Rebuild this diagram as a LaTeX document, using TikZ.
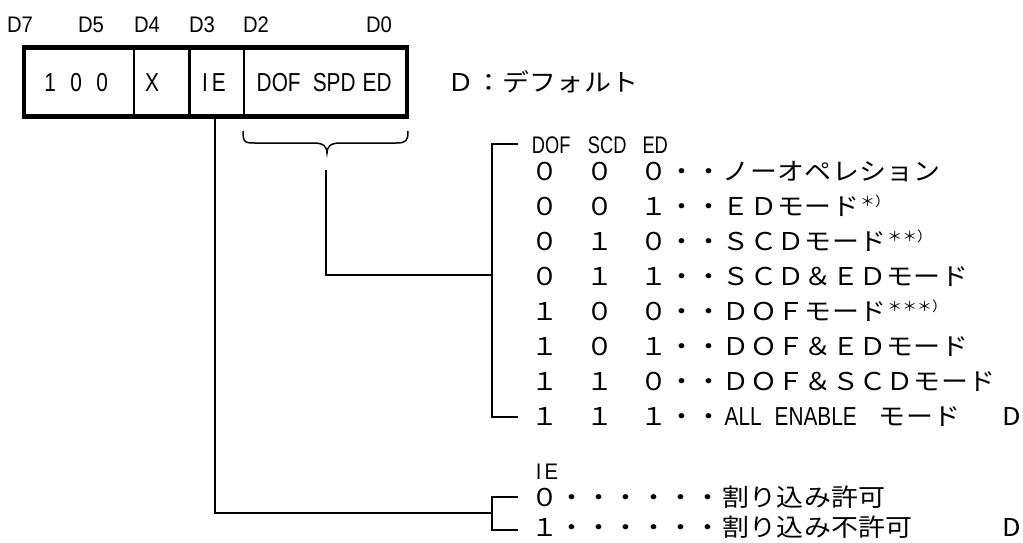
\documentclass[tikz,border=0pt]{standalone}
\usepackage{fontspec}
\setmainfont{Noto Sans CJK JP}
\newfontfamily\cjkwide[FakeStretch=1.1]{Noto Sans CJK JP}
\newfontfamily\narrowA[FakeStretch=0.9]{Liberation Sans}
\newfontfamily\narrowB[FakeStretch=0.8]{Liberation Sans}
\newfontfamily\narrowC[FakeStretch=0.76]{Liberation Sans}
\newlength\fwp
\setlength\fwp{27.3pt}
\def\fwend{\fwend}
\def\fwloop#1{\ifx\fwend#1\else\makebox[\fwp][c]{#1}\expandafter\fwloop\fi}
\newcommand\fw[1]{\fwloop#1\fwend}
\newcommand\supmark[1]{\hspace{1pt}\raisebox{9pt}{\fontsize{13.5}{13.5}\selectfont #1}}
\begin{document}
\begin{tikzpicture}[x=1pt,y=-1pt,
  lbl/.style={inner sep=0pt, font=\narrowA\fontsize{22.5}{24}\selectfont},
  cell/.style={inner sep=0pt, font=\narrowB\fontsize{26}{28}\selectfont},
  hdr/.style={inner sep=0pt, anchor=west, font=\narrowC\fontsize{24}{26}\selectfont},
  row/.style={inner sep=0pt, anchor=base west, font=\cjkwide\fontsize{24.5}{27}\selectfont},
  dflt/.style={inner sep=0pt, anchor=base, font=\cjkwide\fontsize{24.5}{27}\selectfont},
  conn/.style={line width=2.3pt},
  bracelin/.style={line width=1.5pt},
]
\useasboundingbox (0,0) rectangle (1023,542);
% bit labels
\node[lbl] (d7) at (20,25) {D7};
\node[lbl] (d5) at (91,25) {D5};
\node[lbl] (d4) at (147,25) {D4};
\node[lbl] (d3) at (202,25) {D3};
\node[lbl] (d2) at (256,25) {D2};
\node[lbl] (d0) at (379,25) {D0};
% register box
\draw[line width=4.5pt] (24,47.5) rectangle (407,116.5);
\draw[line width=2.7pt] (134,47.5) -- (134,116.5);
\draw[line width=2.7pt] (189.5,47.5) -- (189.5,116.5);
\draw[line width=2.7pt] (244,47.5) -- (244,116.5);
\node[cell, anchor=west] (c100) at (37,83) {\makebox[26pt]{1}\makebox[26pt]{0}\makebox[26pt]{0}};
\node[cell] (cx) at (152,83) {X};
\node[cell] (cie) at (214,83) {I\kern4pt E};
\node[cell, anchor=west] (cdof) at (250,83) {\makebox[57pt]{DOF}\makebox[54pt]{SPD}\makebox[32pt]{ED}};
% default note
\node[row] (def) at (447.35,91) {\fw{Ｄ：デフォルト}};
% brace
\draw[bracelin] (243,131) .. controls (243,143) and (245,143) .. (256,143) -- (314,143)
  .. controls (324,143) and (327,147) .. (327,153)
  .. controls (327,147) and (330,143) .. (340,143) -- (396,143)
  .. controls (406,143) and (408,141) .. (408,131);
% coordinates for connectors
\coordinate (bt) at (326,170);
\coordinate (j1) at (492,275);
\coordinate (bkAe) at (518,144);
\coordinate (bkA) at (492,144);
\coordinate (bkB) at (492,417);
\coordinate (bkBe) at (518,417);
\coordinate (ie) at (215,116.5);
\coordinate (j2) at (492,513);
\coordinate (bkCe) at (518,497);
\coordinate (bkC) at (492,497);
\coordinate (bkD) at (492,530);
\coordinate (bkDe) at (518,530);
\draw[conn] (bt) |- (j1);
\draw[conn] (bkAe) -- (bkA) -- (bkB) -- (bkBe);
\draw[conn] (ie) |- (j2);
\draw[conn] (bkCe) -- (bkC) -- (bkD) -- (bkDe);
% table header
\node[hdr] (hd) at (523,145) {\makebox[56pt]{DOF}\makebox[56pt]{SCD}\makebox[40pt]{ED}};
% rows
\node[row] (r0) at (531.35,180) {\fw{０　０　０・・ノーオペレション}};
\node[row] (r1) at (531.35,215) {\fw{０　０　１・・ＥＤモード}\supmark{＊）}};
\node[row] (r2) at (531.35,250) {\fw{０　１　０・・ＳＣＤモード}\supmark{＊＊）}};
\node[row] (r3) at (531.35,285) {\fw{０　１　１・・ＳＣＤ＆ＥＤモード}};
\node[row] (r4) at (531.35,320) {\fw{１　０　０・・ＤＯＦモード}\supmark{＊＊＊）}};
\node[row] (r5) at (531.35,355) {\fw{１　０　１・・ＤＯＦ＆ＥＤモード}};
\node[row] (r6) at (531.35,390) {\fw{１　１　０・・ＤＯＦ＆ＳＣＤモード}};
\node[row] (r7) at (531.35,425) {\fw{１　１　１・・}\makebox[156pt][l]{\narrowB\fontsize{26}{28}\selectfont\hspace{2pt}ALL\hspace{13pt}ENABLE}\fw{モード}};
\node[dflt] (dd1) at (1012,425) {D};
% IE table
\node[lbl] (iel) at (547,472) {I\kern3pt E};
\node[row] (ie0) at (530.7,506) {\fw{０・・・・・・割り込み許可}};
\node[row] (ie1) at (530.7,536) {\fw{１・・・・・・割り込み不許可}};
\node[dflt] (dd2) at (1012,536) {D};
\end{tikzpicture}
\end{document}
